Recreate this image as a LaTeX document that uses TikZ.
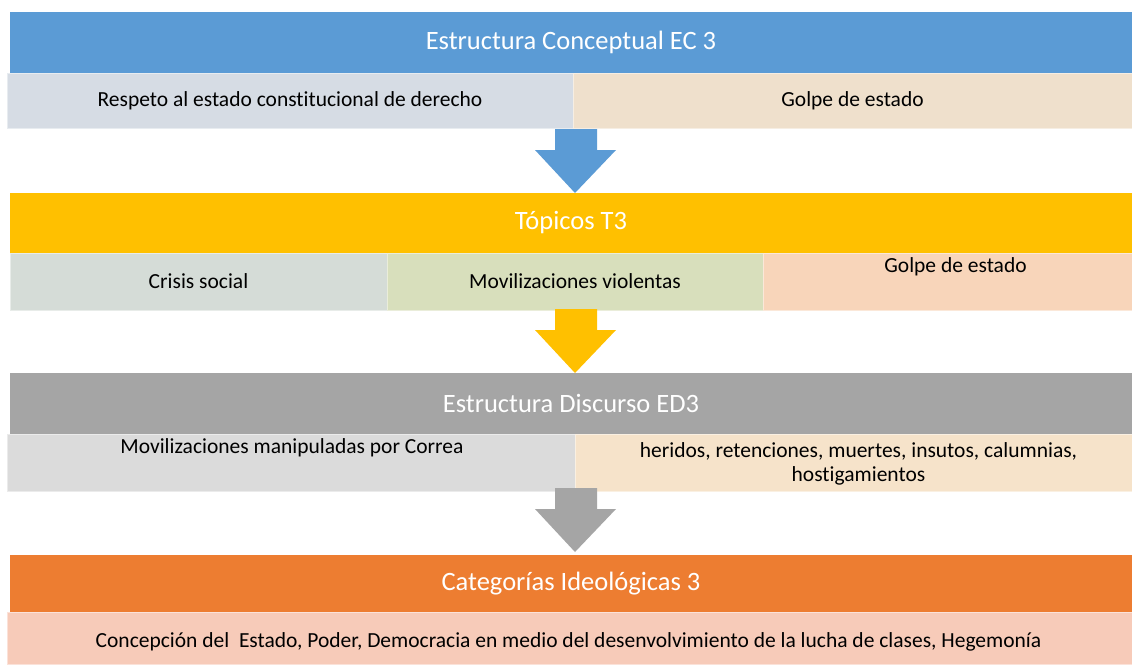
\documentclass[tikz,border=0pt]{standalone}
\usepackage{fontspec}
\setmainfont{Carlito}[Ligatures={NoCommon}]
\usetikzlibrary{calc}
\definecolor{hblue}{HTML}{5B9BD5}
\definecolor{hgold}{HTML}{FFC000}
\definecolor{hgrey}{HTML}{A5A5A5}
\definecolor{horange}{HTML}{ED7D31}
\definecolor{ca}{HTML}{D6DCE4}
\definecolor{cb}{HTML}{EFE0CC}
\definecolor{cc}{HTML}{D5DCD7}
\definecolor{cd}{HTML}{D8DFBC}
\definecolor{ce}{HTML}{F8D5BA}
\definecolor{cf}{HTML}{DBDBDB}
\definecolor{cg}{HTML}{F6E3CA}
\definecolor{ch}{HTML}{F7CBB9}
\newcommand\blockarrow[2]{% #1 tip coordinate, #2 colour
  \fill[#2] ($(#1)+(-20,-64)$) -- ($(#1)+(22,-64)$) -- ($(#1)+(22,-43)$) -- ($(#1)+(41,-43)$)
    -- (#1) -- ($(#1)+(-40,-43)$) -- ($(#1)+(-20,-43)$) -- cycle;}
\begin{document}
\begin{tikzpicture}[x=1pt,y=-1pt,
  head/.style={anchor=north west, inner sep=0pt, outer sep=0pt, fill=#1,
    text=white, font=\fontsize{26.5}{30}\selectfont},
  cell/.style={anchor=north west, inner sep=0pt, outer sep=0pt, fill=#1,
    draw=#1!55!white, line width=0.8pt, text=black, font=\fontsize{21.5}{24}\selectfont},
  txt/.style={inner sep=0pt, anchor=base, text=black, align=center,
    font=\fontsize{21.5}{24}\selectfont}]
\useasboundingbox[fill=white] (0,0) rectangle (1132,664);

% Row 1
\node[head=hblue, minimum width=1122pt, minimum height=61pt] (h1) at (10,12) {Estructura Conceptual EC 3};
\node[cell=ca, minimum width=566pt, minimum height=55pt] (c1a) at (7,73) {Respeto al estado constitucional de derecho};
\node[cell=cb, minimum width=559pt, minimum height=55pt] (c1b) at (573,73) {Golpe de estado};

% Row 2
\node[head=hgold, minimum width=1122pt, minimum height=60pt] (h2) at (10,193) {Tópicos T3};
\node[cell=cc, minimum width=377pt, minimum height=57pt] (c2a) at (10,253) {Crisis social};
\node[cell=cd, minimum width=376pt, minimum height=57pt] (c2b) at (387,253) {Movilizaciones violentas};
\node[cell=ce, minimum width=369pt, minimum height=57pt] (c2c) at (763,253) {};
\node[txt] (t2c) at ($(c2c.north)+(8,19)$) {Golpe de estado};

% Row 3
\node[head=hgrey, minimum width=1122pt, minimum height=61pt] (h3) at (10,373) {Estructura Discurso ED3};
\node[cell=cf, minimum width=568pt, minimum height=57pt] (c3a) at (7,434) {};
\node[cell=cg, minimum width=557pt, minimum height=57pt] (c3b) at (575,434) {};
\node[txt] (t3a) at ($(c3a.north)+(1,19)$) {Movilizaciones manipuladas por Correa};
\node[txt] (t3b) at ($(c3b.north)+(5,47)$) {heridos, retenciones, muertes, insutos, calumnias,\\hostigamientos};

% Row 4
\node[head=horange, minimum width=1122pt, minimum height=57pt] (h4) at (10,555) {Categorías Ideológicas 3};
\node[cell=ch, minimum width=1125pt, minimum height=52pt] (c4) at (7,612) {};
\node[txt] (t4) at ($(c4.north)+(-1,35)$) {Concepción del\ \ Estado, Poder, Democracia en medio del desenvolvimiento de la lucha de clases, Hegemonía};

% Arrows
\coordinate (a1) at ($(c1a.south east |- h2.north)+(2,0)$);
\coordinate (a2) at (c2b.south |- h3.north);
\coordinate (a3) at ($(c3a.south east |- h4.north)+(0,-3)$);
\blockarrow{a1}{hblue}
\blockarrow{a2}{hgold}
\blockarrow{a3}{hgrey}
\end{tikzpicture}
\end{document}
